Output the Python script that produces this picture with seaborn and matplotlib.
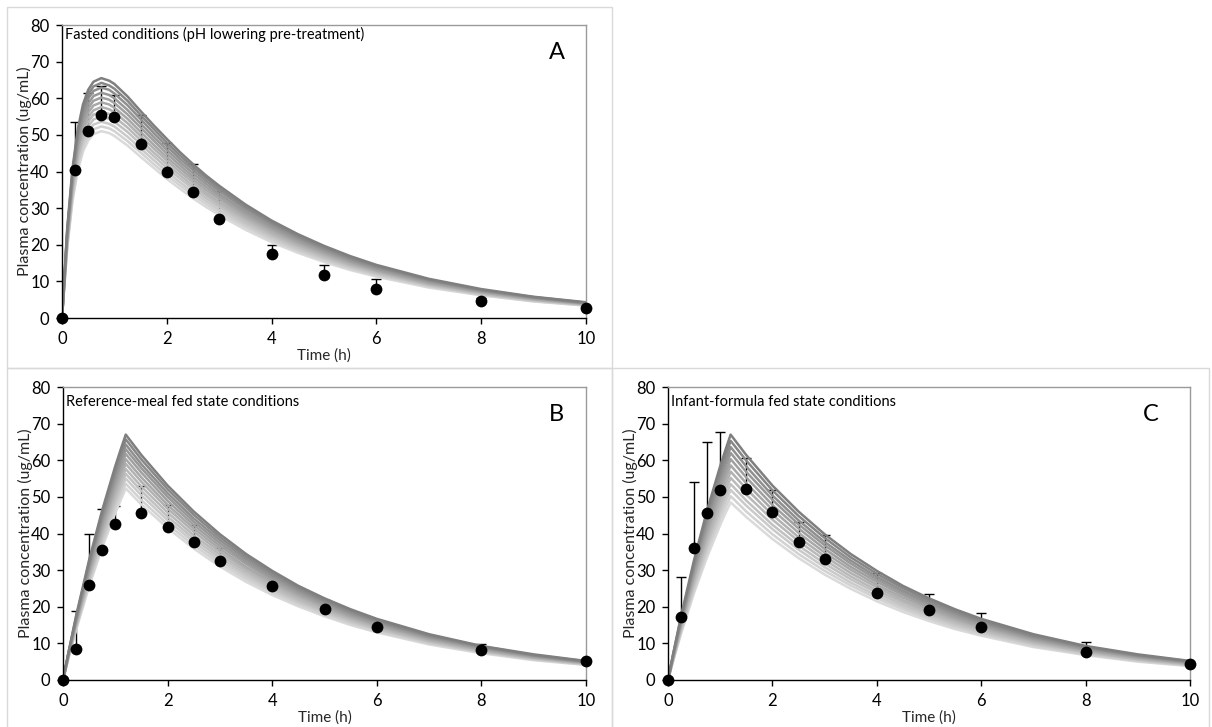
import numpy as np
import pandas as pd
import matplotlib
matplotlib.use("Agg")
import matplotlib.pyplot as plt
from matplotlib.patches import Rectangle
import seaborn as sns

# ---------------------------------------------------------------- data
# observed sampling times (h)
obs_time = [0, 0.25, 0.5, 0.75, 1, 1.5, 2, 2.5, 3, 4, 5, 6, 8, 10]

# observed mean plasma concentration (ug/mL) and SD (upper error bar)
fasted_mean = [0, 40.3, 51.1, 55.3, 54.8, 47.6, 39.9, 34.3, 27.1, 17.4, 11.7, 7.9, 4.6, 2.6]
fasted_sd = [0, 13.1, 10.4, 8.0, 6.0, 7.7, 8.0, 7.7, 7.6, 2.5, 2.7, 2.7, 0.9, 0.3]

meal_mean = [0, 8.6, 25.9, 35.4, 42.7, 45.7, 41.9, 37.8, 32.6, 25.6, 19.5, 14.6, 8.2, 5.1]
meal_sd = [0, 10.2, 14.1, 11.4, 4.8, 7.3, 5.8, 4.5, 3.4, 2.8, 2.3, 1.9, 1.5, 0.4]

formula_mean = [0, 17.3, 36.0, 45.7, 51.9, 52.2, 45.8, 37.7, 33.1, 23.8, 19.0, 14.5, 7.7, 4.4]
formula_sd = [0, 10.7, 18.0, 19.4, 15.8, 8.4, 6.1, 5.5, 6.4, 5.5, 4.5, 3.9, 2.8, 0.2]

# simulated profiles (one row per simulation run, lowest to highest)
fasted_sim_time = [0, 0.1, 0.2, 0.3, 0.4, 0.5, 0.6, 0.75, 0.9, 1.0, 1.25, 1.5, 1.75,
                   2, 2.25, 2.5, 2.75, 3, 3.5, 4, 4.5, 5, 5.5, 6, 7, 8, 9, 10]
fasted_sim = [
    [0, 19.1, 31.8, 40.1, 45.4, 48.5, 50.2, 51.0, 50.5, 49.7, 47.1, 44.0, 41.0, 38.0, 35.3, 32.7, 30.3, 28.1, 24.1, 20.7, 17.8, 15.3, 13.1, 11.3, 8.3, 6.2, 4.5, 3.4],
    [0, 19.5, 32.6, 41.1, 46.5, 49.8, 51.5, 52.3, 51.8, 51.0, 48.3, 45.2, 42.0, 39.0, 36.2, 33.6, 31.1, 28.8, 24.8, 21.3, 18.3, 15.7, 13.5, 11.6, 8.6, 6.3, 4.6, 3.4],
    [0, 20.0, 33.4, 42.2, 47.7, 51.0, 52.8, 53.6, 53.0, 52.3, 49.5, 46.3, 43.1, 40.0, 37.1, 34.4, 31.9, 29.5, 25.4, 21.8, 18.7, 16.1, 13.8, 11.9, 8.8, 6.5, 4.8, 3.5],
    [0, 20.6, 34.3, 43.3, 48.9, 52.3, 54.2, 55.0, 54.4, 53.6, 50.8, 47.5, 44.2, 41.0, 38.1, 35.3, 32.7, 30.3, 26.0, 22.4, 19.2, 16.5, 14.2, 12.2, 9.0, 6.6, 4.9, 3.6],
    [0, 21.0, 35.1, 44.3, 50.1, 53.6, 55.5, 56.3, 55.7, 54.9, 52.0, 48.6, 45.2, 42.0, 39.0, 36.1, 33.5, 31.0, 26.7, 22.9, 19.7, 16.9, 14.5, 12.5, 9.2, 6.8, 5.0, 3.7],
    [0, 21.5, 35.9, 45.3, 51.3, 54.8, 56.7, 57.6, 57.0, 56.2, 53.2, 49.7, 46.3, 43.0, 39.9, 37.0, 34.2, 31.7, 27.3, 23.4, 20.1, 17.3, 14.8, 12.8, 9.4, 7.0, 5.1, 3.8],
    [0, 22.0, 36.7, 46.3, 52.4, 56.1, 58.0, 58.9, 58.3, 57.4, 54.4, 50.8, 47.3, 43.9, 40.8, 37.8, 35.0, 32.5, 27.9, 24.0, 20.6, 17.7, 15.2, 13.0, 9.6, 7.1, 5.2, 3.9],
    [0, 22.5, 37.5, 47.3, 53.6, 57.3, 59.3, 60.2, 59.6, 58.7, 55.6, 52.0, 48.4, 44.9, 41.7, 38.6, 35.8, 33.2, 28.5, 24.5, 21.0, 18.1, 15.5, 13.3, 9.8, 7.3, 5.4, 4.0],
    [0, 23.0, 38.3, 48.4, 54.7, 58.5, 60.6, 61.5, 60.9, 60.0, 56.8, 53.1, 49.4, 45.9, 42.6, 39.5, 36.6, 33.9, 29.1, 25.0, 21.5, 18.5, 15.8, 13.6, 10.1, 7.4, 5.5, 4.0],
    [0, 23.5, 39.2, 49.5, 56.0, 59.9, 62.0, 62.9, 62.3, 61.3, 58.1, 54.3, 50.5, 46.9, 43.5, 40.4, 37.4, 34.7, 29.8, 25.6, 22.0, 18.9, 16.2, 13.9, 10.3, 7.6, 5.6, 4.1],
    [0, 24.0, 40.0, 50.5, 57.1, 61.1, 63.2, 64.2, 63.5, 62.6, 59.3, 55.4, 51.6, 47.9, 44.4, 41.2, 38.2, 35.4, 30.4, 26.1, 22.4, 19.3, 16.5, 14.2, 10.5, 7.7, 5.7, 4.2],
    [0, 24.5, 40.8, 51.5, 58.3, 62.3, 64.5, 65.5, 64.8, 63.9, 60.5, 56.5, 52.6, 48.9, 45.3, 42.0, 38.9, 36.1, 31.0, 26.6, 22.9, 19.7, 16.9, 14.5, 10.7, 7.9, 5.8, 4.3],
]

fed_sim_time = [0, 0.1, 0.25, 0.5, 0.75, 1.0, 1.1, 1.2, 1.5, 2, 2.5, 3, 3.5,
                4, 4.5, 5, 5.5, 6, 7, 8, 9, 10]
meal_sim = [
    [0, 5.7, 13.6, 25.6, 36.2, 45.6, 49.0, 52.3, 47.9, 41.5, 35.9, 31.0, 26.8, 23.2, 20.1, 17.4, 15.0, 13.0, 9.7, 7.3, 5.4, 4.1],
    [0, 5.8, 14.0, 26.3, 37.1, 46.7, 50.3, 53.6, 49.1, 42.5, 36.8, 31.8, 27.5, 23.8, 20.6, 17.8, 15.4, 13.3, 10.0, 7.5, 5.6, 4.2],
    [0, 6.0, 14.3, 27.0, 38.1, 48.0, 51.6, 55.0, 50.4, 43.6, 37.7, 32.6, 28.2, 24.4, 21.1, 18.3, 15.8, 13.7, 10.2, 7.7, 5.7, 4.3],
    [0, 6.1, 14.7, 27.6, 39.0, 49.1, 52.8, 56.3, 51.6, 44.6, 38.6, 33.4, 28.9, 25.0, 21.6, 18.7, 16.2, 14.0, 10.5, 7.8, 5.9, 4.4],
    [0, 6.2, 15.0, 28.2, 39.9, 50.2, 54.0, 57.6, 52.8, 45.7, 39.5, 34.2, 29.6, 25.6, 22.1, 19.1, 16.6, 14.3, 10.7, 8.0, 6.0, 4.5],
    [0, 6.4, 15.4, 28.9, 40.9, 51.5, 55.3, 59.0, 54.1, 46.8, 40.5, 35.0, 30.3, 26.2, 22.7, 19.6, 17.0, 14.7, 11.0, 8.2, 6.1, 4.6],
    [0, 6.5, 15.7, 29.6, 41.8, 52.6, 56.5, 60.3, 55.3, 47.8, 41.4, 35.8, 30.9, 26.8, 23.2, 20.0, 17.3, 15.0, 11.2, 8.4, 6.3, 4.7],
    [0, 6.7, 16.1, 30.2, 42.8, 53.8, 57.9, 61.7, 56.6, 48.9, 42.3, 36.6, 31.7, 27.4, 23.7, 20.5, 17.7, 15.3, 11.5, 8.6, 6.4, 4.8],
    [0, 6.8, 16.4, 30.9, 43.7, 54.9, 59.1, 63.0, 57.8, 50.0, 43.2, 37.4, 32.3, 28.0, 24.2, 20.9, 18.1, 15.7, 11.7, 8.8, 6.6, 4.9],
    [0, 7.0, 16.7, 31.5, 44.6, 56.1, 60.3, 64.3, 58.9, 51.0, 44.1, 38.2, 33.0, 28.6, 24.7, 21.4, 18.5, 16.0, 12.0, 9.0, 6.7, 5.0],
    [0, 7.1, 17.1, 32.2, 45.5, 57.3, 61.6, 65.7, 60.2, 52.1, 45.1, 39.0, 33.7, 29.2, 25.2, 21.8, 18.9, 16.3, 12.2, 9.2, 6.8, 5.1],
    [0, 7.2, 17.5, 32.8, 46.4, 58.4, 62.8, 67.0, 61.4, 53.1, 46.0, 39.8, 34.4, 29.8, 25.7, 22.3, 19.3, 16.7, 12.5, 9.3, 7.0, 5.2],
]
formula_sim = [
    [0, 5.2, 12.6, 23.8, 33.6, 42.3, 45.5, 48.5, 44.5, 38.5, 33.3, 28.8, 24.9, 21.5, 18.6, 16.1, 13.9, 12.1, 9.0, 6.8, 5.0, 3.8],
    [0, 5.4, 13.1, 24.6, 34.8, 43.8, 47.1, 50.2, 46.0, 39.8, 34.4, 29.8, 25.8, 22.3, 19.3, 16.7, 14.4, 12.5, 9.3, 7.0, 5.2, 3.9],
    [0, 5.6, 13.5, 25.4, 36.0, 45.3, 48.7, 51.9, 47.6, 41.2, 35.6, 30.8, 26.6, 23.0, 19.9, 17.2, 14.9, 12.9, 9.7, 7.2, 5.4, 4.0],
    [0, 5.8, 13.9, 26.2, 37.1, 46.7, 50.2, 53.5, 49.0, 42.4, 36.7, 31.8, 27.5, 23.8, 20.5, 17.8, 15.4, 13.3, 10.0, 7.5, 5.6, 4.2],
    [0, 6.0, 14.4, 27.1, 38.3, 48.1, 51.8, 55.2, 50.6, 43.8, 37.9, 32.8, 28.3, 24.5, 21.2, 18.3, 15.9, 13.7, 10.3, 7.7, 5.7, 4.3],
    [0, 6.2, 14.8, 27.9, 39.4, 49.6, 53.4, 56.9, 52.2, 45.1, 39.0, 33.8, 29.2, 25.3, 21.8, 18.9, 16.4, 14.2, 10.6, 7.9, 5.9, 4.4],
    [0, 6.3, 15.3, 28.7, 40.6, 51.1, 55.0, 58.6, 53.7, 46.5, 40.2, 34.8, 30.1, 26.0, 22.5, 19.5, 16.8, 14.6, 10.9, 8.2, 6.1, 4.6],
    [0, 6.5, 15.7, 29.6, 41.8, 52.6, 56.5, 60.3, 55.3, 47.8, 41.4, 35.8, 30.9, 26.8, 23.2, 20.0, 17.3, 15.0, 11.2, 8.4, 6.3, 4.7],
    [0, 6.7, 16.1, 30.4, 43.0, 54.1, 58.1, 62.0, 56.8, 49.2, 42.5, 36.8, 31.8, 27.5, 23.8, 20.6, 17.8, 15.4, 11.5, 8.6, 6.5, 4.8],
    [0, 6.9, 16.6, 31.2, 44.1, 55.5, 59.6, 63.6, 58.3, 50.4, 43.6, 37.7, 32.6, 28.2, 24.4, 21.1, 18.3, 15.8, 11.8, 8.9, 6.6, 5.0],
    [0, 7.1, 17.0, 32.0, 45.3, 57.0, 61.2, 65.3, 59.9, 51.8, 44.8, 38.8, 33.5, 29.0, 25.1, 21.7, 18.8, 16.2, 12.1, 9.1, 6.8, 5.1],
    [0, 7.2, 17.5, 32.8, 46.4, 58.4, 62.8, 67.0, 61.4, 53.1, 46.0, 39.8, 34.4, 29.8, 25.7, 22.3, 19.3, 16.7, 12.5, 9.3, 7.0, 5.2],
]

x_ticks = [0, 2, 4, 6, 8, 10]
y_ticks = [0, 10, 20, 30, 40, 50, 60, 70, 80]

# ---------------------------------------------------------------- style
sns.set_style("white")
plt.rcParams["font.family"] = ["Lato", "DejaVu Sans"]

W, H = 1212, 727
fig = plt.figure(figsize=(W / 100, H / 100), dpi=100)

def fig_box(left, top, right, bottom):
    return [left / W, 1 - bottom / H, (right - left) / W, (bottom - top) / H]

# light frames around each chart
for l, t, r, b in [(7, 7, 612, 368), (7, 368, 612, 730), (612, 368, 1209, 730)]:
    fig.add_artist(Rectangle((l / W, 1 - b / H), (r - l) / W, (b - t) / H,
                             transform=fig.transFigure, fill=False,
                             edgecolor="#d9d9d9", linewidth=1.0))

shades = sns.blend_palette(["#dadada", "#7f7f7f"], n_colors=12)

panels = [
    dict(box=(62, 25, 586, 318), sim_t=fasted_sim_time, sim=fasted_sim,
         mean=fasted_mean, sd=fasted_sd,
         title="Fasted conditions (pH lowering pre-treatment)", title_y=0.966,
         letter="A", letter_x=0.945),
    dict(box=(63, 387, 586, 680), sim_t=fed_sim_time, sim=meal_sim,
         mean=meal_mean, sd=meal_sd,
         title="Reference-meal fed state conditions", title_y=0.95,
         letter="B", letter_x=0.943),
    dict(box=(668, 387, 1190, 680), sim_t=fed_sim_time, sim=formula_sim,
         mean=formula_mean, sd=formula_sd,
         title="Infant-formula fed state conditions", title_y=0.95,
         letter="C", letter_x=0.925),
]

for p in panels:
    ax = fig.add_axes(fig_box(*p["box"]))

    sim_long = pd.DataFrame(
        [(run, t, c) for run, row in enumerate(p["sim"]) for t, c in zip(p["sim_t"], row)],
        columns=["run", "time", "conc"],
    )

    # upper SD bars sit underneath the simulated curves
    ax.errorbar(obs_time, p["mean"], yerr=[np.zeros(len(p["sd"])), p["sd"]],
                fmt="none", ecolor="black", elinewidth=1.0, capsize=3.5,
                capthick=1.0, zorder=1)

    sns.lineplot(data=sim_long, x="time", y="conc", hue="run", palette=shades,
                 linewidth=1.8, legend=False, estimator=None, sort=False,
                 ax=ax, zorder=2)

    sns.scatterplot(x=obs_time, y=p["mean"], color="black", s=72,
                    edgecolor="black", linewidth=0, zorder=4, clip_on=False,
                    legend=False, ax=ax)

    ax.set_xlim(0, 10)
    ax.set_ylim(0, 80)
    ax.set_xticks(x_ticks)
    ax.set_yticks(y_ticks)

    for side in ("left", "bottom"):
        ax.spines[side].set_color("black")
        ax.spines[side].set_linewidth(1.0)
    for side in ("top", "right"):
        ax.spines[side].set_color("#9a9a9a")
        ax.spines[side].set_linewidth(1.0)

    ax.tick_params(axis="both", which="major", direction="out", length=4,
                   width=1.0, color="black", labelsize=12, pad=5,
                   labelcolor="black")
    ax.tick_params(axis="x", bottom=True)
    ax.tick_params(axis="y", left=True)

    ax.set_xlabel("Time (h)", fontsize=11, labelpad=0)
    ax.set_ylabel("Plasma concentration (ug/mL)", fontsize=11.5)
    ax.xaxis.set_label_coords(0.5, -0.105)
    ax.yaxis.set_label_coords(-0.058, 0.5)

    ax.text(0.006, p["title_y"], p["title"], transform=ax.transAxes,
            ha="left", va="center", fontsize=10.5, color="black")
    ax.text(p["letter_x"], 0.905, p["letter"], transform=ax.transAxes,
            ha="center", va="center", fontsize=17, color="black")

fig.savefig("out.png", dpi=100)
